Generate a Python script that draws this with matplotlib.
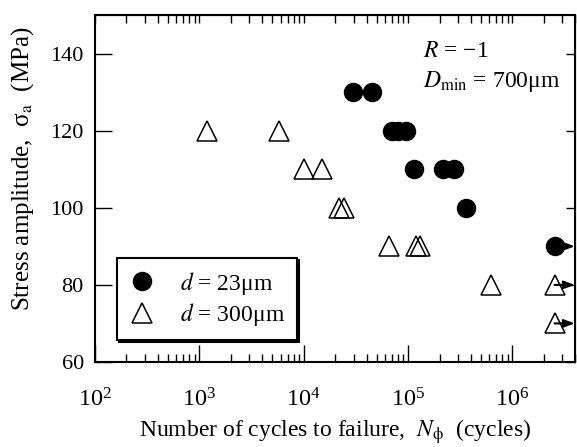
import numpy as np
import matplotlib.pyplot as plt
from matplotlib.ticker import LogLocator, FixedLocator, NullLocator, NullFormatter

plt.rcParams['font.family'] = ['Liberation Serif', 'DejaVu Serif']
plt.rcParams['mathtext.fontset'] = 'stix'

# --- data: d = 23 um (filled circles) ---
n_23 = [2.94e4, 4.51e4, 6.97e4, 8.04e4, 9.55e4, 1.13e5, 2.18e5, 2.77e5, 3.6e5, 2.53e6]
s_23 = [130, 130, 120, 120, 120, 110, 110, 110, 100, 90]
runout_23 = [False] * 9 + [True]

# --- data: d = 300 um (open triangles) ---
n_300 = [1.19e3, 5.8e3, 1.01e4, 1.49e4, 2.18e4, 2.44e4, 6.5e4, 1.19e5, 1.31e5, 6.27e5, 2.53e6, 2.53e6]
s_300 = [120, 120, 110, 110, 100, 100, 90, 90, 90, 80, 80, 70]
runout_300 = [False] * 10 + [True, True]

y_ticks = [60, 80, 100, 120, 140]

fig = plt.figure(figsize=(5.77, 4.47), dpi=100)
ax = fig.add_axes([0.1646, 0.1902, 0.8325, 0.7762])

ax.plot(n_23, s_23, 'o', ms=13, color='k', mec='k', ls='none', label=r'$d$ = 23μm', zorder=3)
ax.plot(n_300, s_300, '^', ms=14.5, mfc='none', mec='k', mew=1.1, ls='none',
        label=r'$d$ = 300μm', zorder=3)

# run-out arrows
for n, s, r in list(zip(n_23, s_23, runout_23)) + list(zip(n_300, s_300, runout_300)):
    if r:
        ax.annotate('', xy=(n * 1.56, s), xytext=(n, s),
                    arrowprops=dict(arrowstyle='-|>,head_length=0.8,head_width=0.3',
                                    lw=1.5, color='k', shrinkA=0, shrinkB=0,
                                    mutation_scale=8), zorder=4)

ax.set_xscale('log')
ax.set_xlim(1e2, 4e6)
ax.set_ylim(60, 150)
ax.set_yticks(y_ticks)
ax.xaxis.set_major_locator(LogLocator(base=10, numticks=10))
ax.xaxis.set_minor_locator(LogLocator(base=10, subs=np.arange(2, 10), numticks=20))
ax.xaxis.set_minor_formatter(NullFormatter())
ax.yaxis.set_minor_locator(NullLocator())

ax.tick_params(which='major', direction='in', length=12.5, width=1, labelsize=16, pad=8)
ax.tick_params(which='minor', direction='in', length=6, width=1)
ax.tick_params(axis='x', which='major', pad=19, labelsize=17.5)
for sp in ax.spines.values():
    sp.set_linewidth(1.5)

# top / right ticks, shorter
axt = ax.secondary_xaxis('top')
axt.xaxis.set_major_locator(LogLocator(base=10, numticks=10))
axt.xaxis.set_minor_locator(LogLocator(base=10, subs=np.arange(2, 10), numticks=20))
axt.tick_params(which='both', direction='in', length=6, width=1, labeltop=False)
axt.xaxis.set_minor_formatter(NullFormatter())
axr = ax.secondary_yaxis('right')
axr.yaxis.set_major_locator(FixedLocator(y_ticks))
axr.tick_params(which='major', direction='in', length=6.5, width=1, labelright=False)
axr.yaxis.set_minor_locator(NullLocator())

ax.set_xlabel(r'Number of cycles to failure,  $N_{\mathrm{\phi}}$  (cycles)', fontsize=17, labelpad=4)
ax.set_ylabel(r'Stress amplitude,  σ$_{\mathrm{a}}$  (MPa)', fontsize=18)
ax.yaxis.set_label_coords(-0.123, 0.556)

ax.text(0.682, 0.879, r'$R$ = −1', transform=ax.transAxes, fontsize=17, va='baseline')
ax.text(0.682, 0.793, r'$D_{\mathrm{min}}$ = 700μm', transform=ax.transAxes, fontsize=17, va='baseline')

leg = ax.legend(loc='lower left', bbox_to_anchor=(0.046, 0.063), borderaxespad=0,
                fontsize=17, fancybox=False, edgecolor='k', framealpha=1,
                handletextpad=1.0, labelspacing=0.2, borderpad=0.5, handlelength=1.15,
                shadow={'ox': 1.5, 'oy': -1.5, 'color': 'k', 'alpha': 1})
leg.get_frame().set_linewidth(1.5)

fig.savefig('out.png', dpi=100)
